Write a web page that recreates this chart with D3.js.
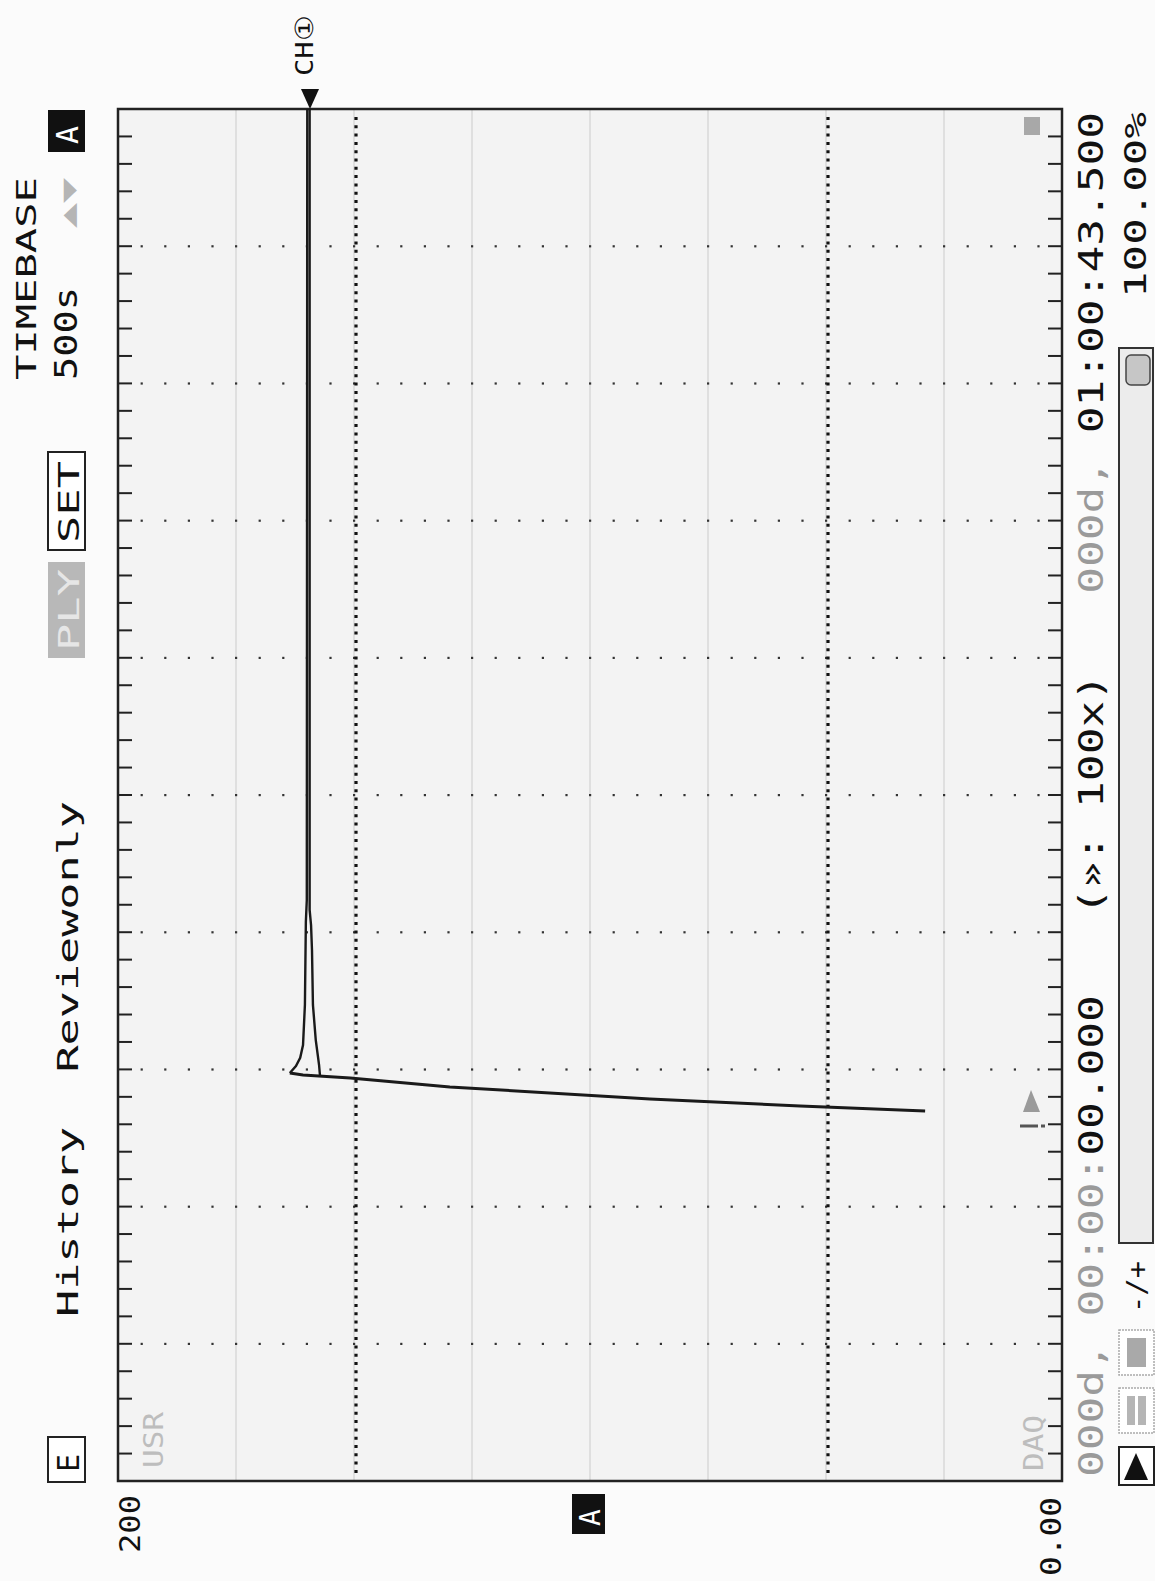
<!DOCTYPE html>
<html>
<head>
<meta charset="utf-8">
<script src="https://cdn.jsdelivr.net/npm/d3@7"></script>
<style>
  html, body { margin: 0; padding: 0; background: #fbfbfb; }
  text { font-family: "DejaVu Sans Mono", "Liberation Mono", monospace; }
</style>
</head>
<body>
<div id="scope"></div>
<script>
var width = 1155, height = 1581;

// screen values: time in seconds (500 s / div), value 0..200
var timeDomain = [0, 5000];
var valueDomain = [200, 0];
var timePerDiv = 500, valuePerDiv = 25;

// trace (time s, value)
var riseT = [1348, 1367, 1392, 1436, 1469, 1480, 1487];
var riseV = [29.0, 55.5, 87.3, 129.7, 150.8, 160.8, 163.6];
var maxT = [1487, 1512, 1542, 1589, 1735, 2037, 2117, 5000];
var maxV = [163.6, 162.3, 161.4, 160.8, 160.4, 160.2, 160.0, 159.9];
var minT = [1476, 1516, 1542, 1607, 1735, 1935, 2026, 2081, 5000];
var minV = [157.2, 157.4, 157.6, 158.1, 158.7, 158.9, 159.1, 159.4, 159.4];

// texts
var statusLine = [
  {s: "000d, 00:00:", c: "#9a9a9a"},
  {s: "00.000   (\u00bb: 100x)   ", c: "#111"},
  {s: "000d, ", c: "#9a9a9a"},
  {s: "01:00:43.500", c: "#111"}
];
var zoomLabel = "100.00%";
var titleLabel = "History  Reviewonly";
var timebaseLabel = "TIMEBASE";
var timebaseValue = "500s";
var topValueLabel = "200";
var bottomValueLabel = "0.00";
var channelLabel = "CH\u2460";

var plot = {left: 118, top: 109, right: 1062, bottom: 1481};

var svg = d3.select('#scope')
            .append('svg')
            .attr('width', width)
            .attr('height', height);

var x = d3.scaleLinear().domain(valueDomain).range([plot.left, plot.right]);
var y = d3.scaleLinear().domain(timeDomain).range([plot.bottom, plot.top]);

svg.append("rect")
    .attr("width", width).attr("height", height)
    .attr("fill", "#fbfbfb");

// plot area
svg.append("rect")
    .attr("x", plot.left).attr("y", plot.top)
    .attr("width", plot.right - plot.left).attr("height", plot.bottom - plot.top)
    .attr("fill", "#f3f3f3");

var grid = svg.append("g");

var valueDivs = d3.range(valueDomain[1] + valuePerDiv, valueDomain[0], valuePerDiv);
var timeDivs = d3.range(timeDomain[0] + timePerDiv, timeDomain[1], timePerDiv);

// light solid division lines
grid.selectAll(".vline")
    .data(valueDivs)
  .enter().append("line")
    .attr("x1", function(d) { return x(d); })
    .attr("x2", function(d) { return x(d); })
    .attr("y1", plot.top).attr("y2", plot.bottom)
    .attr("stroke", "#d8d8d8")
    .attr("stroke-width", 1.5);

// dotted rows at each time division
var dotVals = d3.range(valueDomain[1] + 5, valueDomain[0], 5);
timeDivs.forEach(function(t) {
  grid.selectAll(null)
      .data(dotVals)
    .enter().append("rect")
      .attr("x", function(d) { return x(d) - 1; })
      .attr("y", y(t) - 1)
      .attr("width", 2.2).attr("height", 2.2)
      .attr("fill", "#333");
});

// heavy dotted cursor lines
[150, 50].forEach(function(v) {
  grid.append("line")
      .attr("x1", x(v) + 2).attr("x2", x(v) + 2)
      .attr("y1", plot.top + 8).attr("y2", plot.bottom - 4)
      .attr("stroke", "#111")
      .attr("stroke-width", 3.2)
      .attr("stroke-dasharray", "3,5.3");
});

// edge ticks
var minorTimes = d3.range(timeDomain[0] + 100, timeDomain[1], 100);
grid.selectAll(".ltick")
    .data(minorTimes)
  .enter().append("line")
    .attr("x1", plot.left).attr("x2", plot.left + 14)
    .attr("y1", function(d) { return y(d); })
    .attr("y2", function(d) { return y(d); })
    .attr("stroke", "#222").attr("stroke-width", 2);
grid.selectAll(".rtick")
    .data(minorTimes)
  .enter().append("line")
    .attr("x1", plot.right - 14).attr("x2", plot.right)
    .attr("y1", function(d) { return y(d); })
    .attr("y2", function(d) { return y(d); })
    .attr("stroke", "#222").attr("stroke-width", 2);

// frame
svg.append("rect")
    .attr("x", plot.left).attr("y", plot.top)
    .attr("width", plot.right - plot.left).attr("height", plot.bottom - plot.top)
    .attr("fill", "none")
    .attr("stroke", "#222")
    .attr("stroke-width", 2.5);

// trace
function zip(ts, vs) { return ts.map(function(t, i) { return {t: t, v: vs[i]}; }); }
var line = d3.line()
    .x(function(d) { return x(d.v); })
    .y(function(d) { return y(d.t); });

var trace = svg.append("g").attr("fill", "none").attr("stroke", "#1a1a1a");
trace.append("path").datum(zip(riseT, riseV)).attr("d", line).attr("stroke-width", 3);
trace.append("path").datum(zip(maxT, maxV)).attr("d", line).attr("stroke-width", 2.4);
trace.append("path").datum(zip(minT, minV)).attr("d", line).attr("stroke-width", 2.4);

// rotated text helper (reads bottom to top)
function vtext(g, str, bx, by, size, len, fill) {
  var t = g.append("text")
      .attr("transform", "translate(" + bx + "," + by + ")rotate(-90)")
      .attr("font-size", size)
      .attr("fill", fill || "#111");
  if (typeof str === "string") {
    t.text(str.replace(/ /g, "\u00a0"));
  } else {
    str.forEach(function(p) {
      t.append("tspan").attr("fill", p.c).text(p.s.replace(/ /g, "\u00a0"));
    });
  }
  if (len) t.attr("textLength", len).attr("lengthAdjust", "spacingAndGlyphs");
  return t;
}

var ui = svg.append("g");

// channel marker
vtext(ui, channelLabel, 313, 76, 25, 60);
ui.append("path")
    .attr("d", "M301,89 L319,89 L310,109 Z")
    .attr("fill", "#111");

// left column
vtext(ui, timebaseLabel, 36, 380, 27, 203);
vtext(ui, timebaseValue, 77, 380, 32, 93);
vtext(ui, titleLabel, 78, 1317, 29, 516);

ui.append("rect").attr("x", 48).attr("y", 110).attr("width", 37).attr("height", 42).attr("fill", "#111");
vtext(ui, "A", 78, 144, 30, null, "#fff");

vtext(ui, "\u25b2\u25bc", 76, 228, 22, 50, "#b5b5b5");

ui.append("rect").attr("x", 48).attr("y", 452).attr("width", 37).attr("height", 98)
    .attr("fill", "#fff").attr("stroke", "#222").attr("stroke-width", 2);
vtext(ui, "SET", 79, 543, 29, 82);

ui.append("rect").attr("x", 48).attr("y", 562).attr("width", 37).attr("height", 96).attr("fill", "#b8b8b8");
vtext(ui, "PLY", 79, 651, 29, 82, "#e6e6e6");

ui.append("rect").attr("x", 48).attr("y", 1437).attr("width", 37).attr("height", 45)
    .attr("fill", "#fff").attr("stroke", "#222").attr("stroke-width", 2);
vtext(ui, "E", 79, 1472, 30, null);

// value end labels
vtext(ui, topValueLabel, 140, 1553, 29, 58);
vtext(ui, bottomValueLabel, 1061, 1576, 28, 79);

ui.append("rect").attr("x", 572).attr("y", 1494).attr("width", 33).attr("height", 40).attr("fill", "#111");
vtext(ui, "A", 600, 1526, 28, null, "#fff");

// in-plot labels
vtext(ui, "USR", 163, 1468, 26, 56, "#bdbdbd");
vtext(ui, "DAQ", 1043, 1471, 26, 56, "#bdbdbd");
ui.append("rect").attr("x", 1024).attr("y", 117).attr("width", 16).attr("height", 18).attr("fill", "#a8a8a8");
ui.append("path").attr("d", "M1031,1090 L1040,1112 L1023,1112 Z").attr("fill", "#9a9a9a");
ui.append("line").attr("x1", 1020).attr("x2", 1046).attr("y1", 1126).attr("y2", 1126)
    .attr("stroke", "#555").attr("stroke-width", 3).attr("stroke-dasharray", "18,3,4");

// right column
vtext(ui, statusLine, 1103, 1477, 34, 1365);
vtext(ui, zoomLabel, 1146, 298, 30, 186);

ui.append("rect").attr("x", 1119).attr("y", 348).attr("width", 34).attr("height", 895)
    .attr("fill", "#ececec").attr("stroke", "#333").attr("stroke-width", 2);
ui.append("rect").attr("x", 1126).attr("y", 355).attr("width", 24).attr("height", 30).attr("rx", 5)
    .attr("fill", "#c6c6c6").attr("stroke", "#444").attr("stroke-width", 1.5);

vtext(ui, "-/+", 1146, 1313, 27, 52);

ui.append("rect").attr("x", 1119).attr("y", 1330).attr("width", 35).attr("height", 45)
    .attr("fill", "#fff").attr("stroke", "#aaa").attr("stroke-width", 1.5).attr("stroke-dasharray", "2,1");
ui.append("rect").attr("x", 1127).attr("y", 1338).attr("width", 19).attr("height", 29).attr("fill", "#a9a9a9");
ui.append("rect").attr("x", 1119).attr("y", 1388).attr("width", 35).attr("height", 45)
    .attr("fill", "#fff").attr("stroke", "#aaa").attr("stroke-width", 1.5).attr("stroke-dasharray", "2,1");
ui.append("rect").attr("x", 1127).attr("y", 1396).attr("width", 8).attr("height", 29).attr("fill", "#b5b5b5");
ui.append("rect").attr("x", 1138).attr("y", 1396).attr("width", 8).attr("height", 29).attr("fill", "#b5b5b5");
ui.append("rect").attr("x", 1119).attr("y", 1447).attr("width", 35).attr("height", 38)
    .attr("fill", "#fff").attr("stroke", "#222").attr("stroke-width", 2);
ui.append("path").attr("d", "M1136,1453 L1148,1480 L1124,1480 Z").attr("fill", "#111");
</script>
</body>
</html>
